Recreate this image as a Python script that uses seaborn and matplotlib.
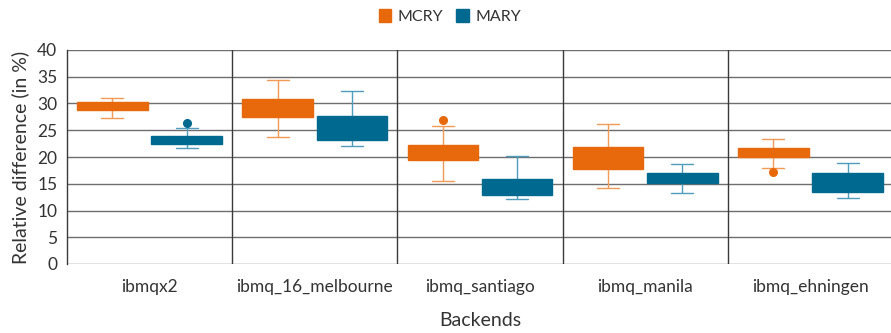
import matplotlib
matplotlib.use("Agg")
import matplotlib.pyplot as plt
import seaborn as sns
import pandas as pd
from matplotlib.patches import Patch

backends = ["ibmqx2", "ibmq_16_melbourne", "ibmq_santiago", "ibmq_manila", "ibmq_ehningen"]
series = ["MCRY", "MARY"]

# box statistics (in %)
mcry_whislo = [27.2, 23.7, 15.6, 14.2, 18.0]
mcry_q1 = [28.8, 27.4, 19.4, 17.8, 20.0]
mcry_med = [29.5, 29.0, 20.8, 19.8, 20.8]
mcry_q3 = [30.3, 30.8, 22.2, 21.9, 21.7]
mcry_whishi = [31.0, 34.3, 25.8, 26.2, 23.4]
mcry_outliers = [[], [], [26.9], [], [17.2]]

mary_whislo = [21.6, 22.0, 12.2, 13.3, 12.3]
mary_q1 = [22.5, 23.1, 12.9, 15.2, 13.5]
mary_med = [23.2, 25.0, 14.5, 16.1, 15.3]
mary_q3 = [23.9, 27.6, 15.9, 17.0, 17.1]
mary_whishi = [25.5, 32.4, 20.2, 18.7, 18.9]
mary_outliers = [[26.3], [], [], [], []]

colors = {"MCRY": "#E8690B", "MARY": "#00698F"}
light = {"MCRY": "#F39A55", "MARY": "#4E9DBD"}

stats = {
    "MCRY": (mcry_whislo, mcry_q1, mcry_med, mcry_q3, mcry_whishi, mcry_outliers),
    "MARY": (mary_whislo, mary_q1, mary_med, mary_q3, mary_whishi, mary_outliers),
}

rows = []
for s in series:
    lo, q1, med, q3, hi, outs = stats[s]
    for i, b in enumerate(backends):
        vals = [lo[i], q1[i], q1[i], med[i], med[i], q3[i], q3[i], hi[i]] + list(outs[i])
        for v in vals:
            rows.append({"Backend": b, "Series": s, "Value": v})
df = pd.DataFrame(rows)

sns.set_style("white")
plt.rcParams["font.family"] = ["Lato", "DejaVu Sans"]

fig = plt.figure(figsize=(8.91, 3.33), dpi=100)
ax = fig.add_axes([67 / 891, 1 - 264 / 333, 826 / 891, 214 / 333])

sns.boxplot(data=df, x="Backend", y="Value", hue="Series", order=backends,
            hue_order=series, palette=colors, saturation=1, width=0.9, gap=0.05,
            whis=1.5, linewidth=1.0, ax=ax, legend=False,
            flierprops=dict(marker="o", markersize=5.5))

for cont, s in zip(ax.containers, series):
    c = colors[s]
    lc = light[s]
    for p in cont.boxes:
        p.set_facecolor(c)
        p.set_edgecolor(c)
        p.set_zorder(3)
    for l in cont.medians:
        l.set_color(c)
        l.set_zorder(3.5)
    for l in cont.whiskers:
        l.set_color(lc)
        l.set_zorder(2.5)
    for l in cont.caps:
        l.set_color(lc)
        l.set_zorder(2.5)
        x0, x1 = l.get_xdata()
        xm = (x0 + x1) / 2
        hw = (x1 - x0) / 2 * 0.62
        l.set_xdata([xm - hw, xm + hw])
    for l in cont.fliers:
        l.set_markerfacecolor(c)
        l.set_markeredgecolor(c)
        l.set_zorder(4)

ax.set_ylim(0, 40)
ax.set_xlim(-0.5, 4.5)
ax.set_yticks(range(0, 41, 5))
ax.yaxis.grid(True, color="#6e6e6e", linewidth=1.0)
ax.set_axisbelow(True)
for xv in [0.5, 1.5, 2.5, 3.5]:
    ax.axvline(xv, color="#3a3a3a", linewidth=1.0, zorder=1)
for sp in ["top", "right", "bottom"]:
    ax.spines[sp].set_visible(False)
ax.spines["left"].set_color("#3a3a3a")
ax.spines["left"].set_linewidth(1.0)
ax.tick_params(axis="both", length=0, labelsize=12.5, colors="#333333")
ax.tick_params(axis="x", pad=11)
ax.tick_params(axis="y", pad=7)
ax.set_xlabel("Backends", fontsize=14, color="#333333", labelpad=12)
ax.set_ylabel("Relative difference (in %)", fontsize=14, color="#333333", labelpad=6)

handles = [Patch(facecolor=colors[s], edgecolor=colors[s], label=s) for s in series]
fig.legend(handles=handles, loc="upper center", bbox_to_anchor=(0.505, 1.015), ncol=2,
           frameon=False, fontsize=11.5, handlelength=0.8, handleheight=0.8,
           handletextpad=0.4, columnspacing=0.8, labelcolor="#333333")

fig.savefig("out.png", dpi=100)
